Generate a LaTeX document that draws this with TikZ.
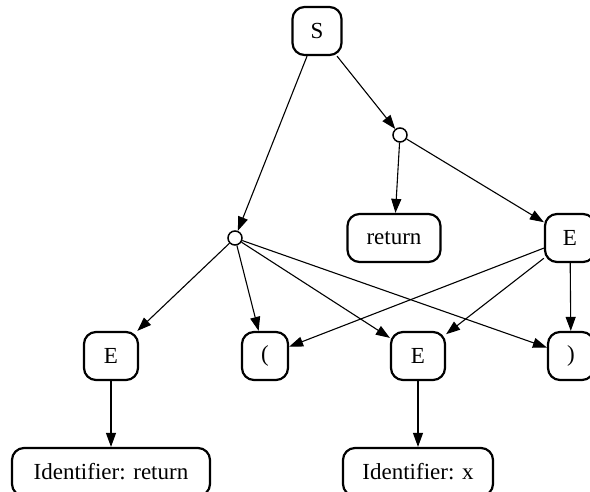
\documentclass[tikz,border=0pt]{standalone}
\usepackage{fontspec}
\setmainfont{Liberation Serif}
\usetikzlibrary{arrows.meta}
\begin{document}
\begin{tikzpicture}[x=1pt,y=-1pt,
  tok/.style={draw,line width=2.2pt,rounded corners=12pt,minimum height=48pt,
    inner sep=0pt,font=\fontsize{23}{27}\selectfont},
  junc/.style={draw,circle,line width=1.5pt,minimum size=14pt,inner sep=0pt,fill=white},
  edge/.style={line width=1.1pt,-{Triangle[length=14pt,width=10pt]}}]
\useasboundingbox (0,0) rectangle (590,492);
% nodes
\node[tok,minimum width=49pt] (S) at (317,31) {S};
\node[junc] (c1) at (400,135) {};
\node[tok,minimum width=93pt] (ret) at (394,238) {return};
\node[tok,minimum width=50pt] (Er) at (570,238) {E};
\node[junc] (c2) at (235,238) {};
\node[tok,minimum width=54pt] (El) at (111,356) {E};
\node[tok,minimum width=46pt] (lp) at (265,356) {(};
\node[tok,minimum width=54pt] (Em) at (418,356) {E};
\node[tok,minimum width=46pt] (rp) at (571,356) {)};
\node[tok,minimum width=198pt] (idr) at (111,472) {Identifier: return};
\node[tok,minimum width=150pt] (idx) at (418,472) {Identifier: x};
% connectors
\draw[edge] (S) -- (c1);
\draw[edge] (S) -- (c2);
\draw[edge] (c1) -- (ret);
\draw[edge] (c1) -- (Er);
\draw[edge] (c2) -- (El);
\draw[edge] (c2) -- (lp);
\draw[edge] (c2) -- (Em);
\draw[edge] (c2) -- (rp);
\draw[edge] (Er) -- (lp);
\draw[edge] (Er) -- (Em);
\draw[edge] (Er) -- (rp);
\draw[edge] (El) -- (idr);
\draw[edge] (Em) -- (idx);
\end{tikzpicture}
\end{document}
